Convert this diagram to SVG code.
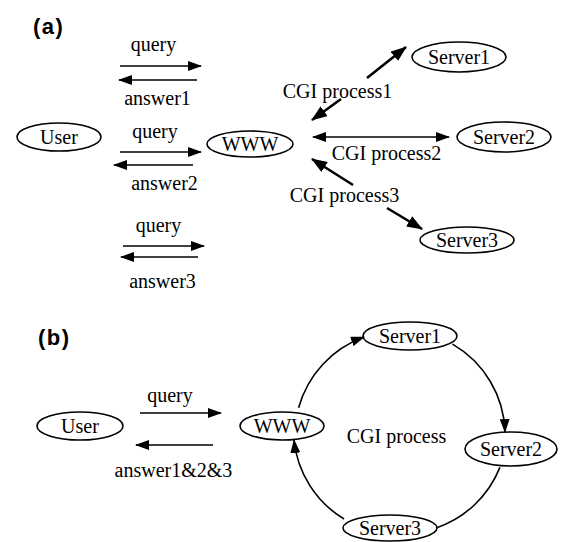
<svg xmlns="http://www.w3.org/2000/svg" width="562" height="542" viewBox="0 0 562 542">
<style>
  .t { font-family: "Liberation Serif", "Times New Roman", serif; font-size: 20px; fill: #000; text-anchor: middle; }
  .h { font-family: "Liberation Sans", Arial, sans-serif; font-size: 22px; font-weight: bold; fill: #000; letter-spacing: 1.5px; }
  .node ellipse { fill: #fff; stroke: #000; stroke-width: 1.6; }
  .c line, .c path { stroke: #000; fill: none; }
  .thin { stroke-width: 1.6; }
  .thick { stroke-width: 2.6; }
</style>
<defs>
  <marker id="ah" markerUnits="userSpaceOnUse" markerWidth="14" markerHeight="10" refX="13" refY="5" orient="auto-start-reverse" viewBox="0 0 14 10">
    <path d="M0,0 L14,5 L0,10 z" fill="#000"/>
  </marker>
  <marker id="ahb" markerUnits="userSpaceOnUse" markerWidth="16" markerHeight="12" refX="15" refY="6" orient="auto-start-reverse" viewBox="0 0 16 12">
    <path d="M0,0 L16,6 L0,12 z" fill="#000"/>
  </marker>
</defs>
<rect width="562" height="542" fill="#fff"/>

<text class="h" x="33" y="34">(a)</text>
<text class="h" x="38" y="345">(b)</text>

<!-- (a) nodes -->
<g id="a-user" class="node"><ellipse cx="59" cy="137" rx="42" ry="14"/><text class="t" x="59" y="144">User</text></g>
<g id="a-www" class="node"><ellipse cx="250" cy="144" rx="43" ry="13"/><text class="t" x="250" y="151">WWW</text></g>
<g id="a-server1" class="node"><ellipse cx="459" cy="57" rx="47" ry="15"/><text class="t" x="459" y="64">Server1</text></g>
<g id="a-server2" class="node"><ellipse cx="504" cy="137" rx="47" ry="15"/><text class="t" x="504" y="144">Server2</text></g>
<g id="a-server3" class="node"><ellipse cx="467" cy="240" rx="47" ry="13"/><text class="t" x="467" y="247">Server3</text></g>

<!-- (b) nodes -->
<g id="b-user" class="node"><ellipse cx="80" cy="426" rx="43" ry="14"/><text class="t" x="80" y="433">User</text></g>
<g id="b-www" class="node"><ellipse cx="282" cy="426" rx="42" ry="14"/><text class="t" x="282" y="433">WWW</text></g>
<g id="b-server1" class="node"><ellipse cx="410" cy="336" rx="47" ry="14"/><text class="t" x="410" y="343">Server1</text></g>
<g id="b-server2" class="node"><ellipse cx="511" cy="449" rx="46" ry="17"/><text class="t" x="511" y="456">Server2</text></g>
<g id="b-server3" class="node"><ellipse cx="390" cy="528" rx="47" ry="13"/><text class="t" x="390" y="535">Server3</text></g>

<!-- connectors -->
<g id="connectors" class="c">
  <line class="thin" x1="120" y1="66" x2="201" y2="66" marker-end="url(#ah)"/>
  <line class="thin" x1="197" y1="80" x2="119" y2="80" marker-end="url(#ah)"/>
  <line class="thin" x1="120" y1="152" x2="201" y2="152" marker-end="url(#ah)"/>
  <line class="thin" x1="193" y1="165" x2="114" y2="165" marker-end="url(#ah)"/>
  <line class="thin" x1="123" y1="246" x2="204" y2="246" marker-end="url(#ah)"/>
  <line class="thin" x1="198" y1="257" x2="121" y2="257" marker-end="url(#ah)"/>

  <line class="thick" x1="367" y1="78" x2="406" y2="47" marker-end="url(#ahb)"/>
  <line class="thick" x1="341" y1="99" x2="312" y2="120" marker-end="url(#ahb)"/>
  <line class="thin" x1="313" y1="137" x2="449" y2="137" marker-start="url(#ah)" marker-end="url(#ah)"/>
  <line class="thick" x1="353" y1="185" x2="312" y2="159" marker-end="url(#ahb)"/>
  <line class="thick" x1="387" y1="208" x2="422" y2="229" marker-end="url(#ahb)"/>

  <line class="thin" x1="140" y1="413" x2="221" y2="413" marker-end="url(#ah)"/>
  <line class="thin" x1="213" y1="445" x2="136" y2="445" marker-end="url(#ah)"/>

  <path class="thin" d="M298.6,407.8 A105,105 0 0 1 364,337" marker-end="url(#ah)"/>
  <path class="thin" d="M452.5,344.1 A105,105 0 0 1 505,432" marker-end="url(#ah)"/>
  <path class="thin" d="M499.9,467.4 A105,105 0 0 1 436,528"/>
  <path class="thin" d="M344,519 A105,105 0 0 1 294,440" marker-end="url(#ah)"/>
</g>

<!-- labels -->
<text class="t" x="153.5" y="51">query</text>
<text class="t" x="157.5" y="105">answer1</text>
<text class="t" x="155" y="138">query</text>
<text class="t" x="164.5" y="190">answer2</text>
<text class="t" x="158.5" y="232">query</text>
<text class="t" x="162.5" y="288">answer3</text>
<text class="t" x="337.5" y="98">CGI process1</text>
<text class="t" x="386.5" y="160">CGI process2</text>
<text class="t" x="344.5" y="202">CGI process3</text>

<text class="t" x="170" y="402">query</text>
<text class="t" x="173.5" y="477">answer1&amp;2&amp;3</text>
<text class="t" x="396.5" y="443">CGI process</text>
</svg>
